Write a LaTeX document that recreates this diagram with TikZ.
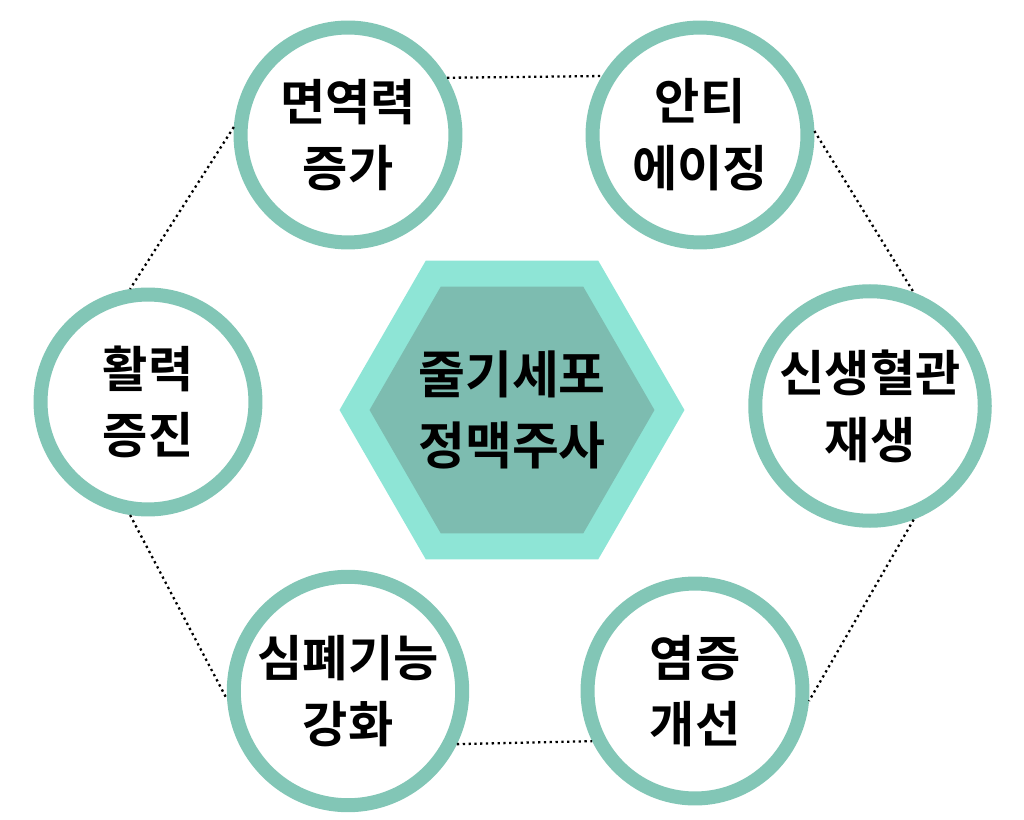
\documentclass[tikz,border=0pt]{standalone}
\usepackage{fontspec}
\newfontfamily\cjk{Noto Sans CJK KR Bold}
\usetikzlibrary{positioning,calc,shapes.geometric}
\definecolor{ring}{RGB}{130, 198, 182}
\definecolor{hexout}{RGB}{142, 229, 214}
\definecolor{hexin}{RGB}{125, 188, 176}

\tikzset{
  benefit/.style={circle, draw=ring, line width=0.28cm, fill=white,
    minimum size=4.3cm, align=center, font=\cjk\fontsize{28}{38}\selectfont},
  link/.style={dotted, line width=1.3pt}
}

\begin{document}
\begin{tikzpicture}[x=0.02cm, y=0.02cm]
      \useasboundingbox (0,0) rectangle (1024,819);

      % centre
      \node[regular polygon, regular polygon sides=6, fill=hexout,
        minimum width=6.9cm, minimum height=5.9cm, inner sep=0pt] (hexo) at (512,409) {};
      \node[regular polygon, regular polygon sides=6, fill=hexin,
        minimum width=5.7cm, minimum height=4.9cm, inner sep=0pt] (hexi) at (512,409) {};
      \node[font=\cjk\fontsize{29}{40}\selectfont, align=center] (main) at (512,409) {줄기세포\\정맥주사};

      % benefits
      \node[benefit] (immune) at (348,684) {면역력\\증가};
      \node[benefit] (aging) at (700,684) {안티\\에이징};
      \node[benefit] (vital) at (148,417) {활력\\증진};
      \node[benefit] (vessel) at (870,413) {신생혈관\\재생};
      \node[benefit] (heart) at (348,128) {심폐기능\\강화};
      \node[benefit] (inflam) at (695,128) {염증\\개선};

      % links
      \draw[link] (immune.30) -- (aging.149);
      \draw[link] (immune.176) -- (vital.99);
      \draw[link] (aging.2) -- (vessel.69);
      \draw[link] (vital.-99) -- (heart.-176);
      \draw[link] (vessel.-69) -- (inflam.-5);
      \draw[link] (heart.-26) -- (inflam.-154);
\end{tikzpicture}
\end{document}
